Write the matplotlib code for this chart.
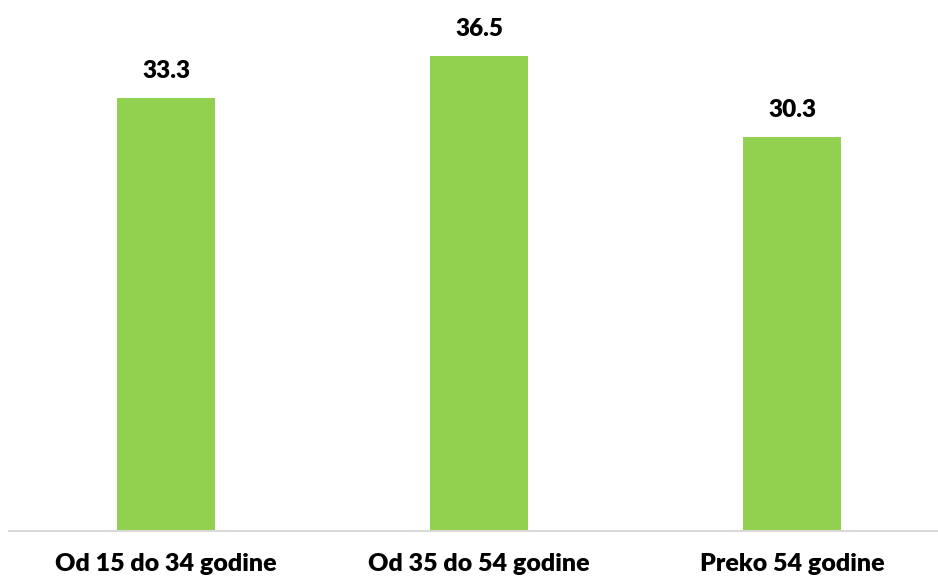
import matplotlib
matplotlib.use('Agg')
import matplotlib.pyplot as plt

categories = ['Od 15 do 34 godine', 'Od 35 do 54 godine', 'Preko 54 godine']
values = [33.3, 36.5, 30.3]
labels = ['33.3', '36.5', '30.3']

plt.rcParams['font.family'] = ['Lato', 'DejaVu Sans']

fig = plt.figure(figsize=(9.38, 5.83), dpi=100)
ax = fig.add_axes([9 / 938, 52.5 / 583, 929 / 938, 520 / 583])

x = list(range(len(categories)))
ax.bar(x, values, width=0.313, color='#92D050', zorder=2)

for xi, v, lab in zip(x, values, labels):
    ax.annotate(lab, (xi, v), xytext=(0, 19.5), textcoords='offset points',
                ha='center', va='center', fontsize=17.5, fontweight='heavy', color='black')

ax.set_xlim(-0.5016, 2.466)
ax.set_ylim(0, 40)
ax.set_xticks(x)
ax.set_xticklabels(categories, fontsize=18, fontweight='heavy')
ax.tick_params(axis='x', length=0, pad=16)
ax.set_yticks([])

for side in ['top', 'right', 'left']:
    ax.spines[side].set_visible(False)
ax.spines['bottom'].set_color('#D9D9D9')
ax.spines['bottom'].set_linewidth(1.5)

fig.savefig('out.png', dpi=100)
